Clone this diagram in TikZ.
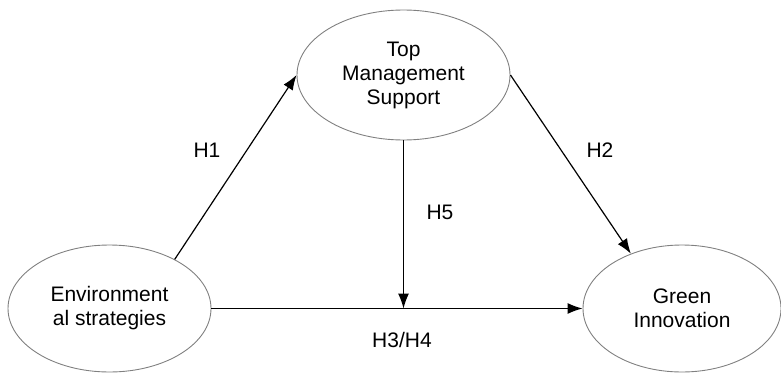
\documentclass[tikz,border=0pt]{standalone}
\usepackage{fontspec}
\setmainfont{Liberation Sans}
\usetikzlibrary{shapes.geometric,arrows.meta}
\tikzset{
  var/.style={ellipse,draw=black!50,line width=0.9pt,inner sep=0pt,align=center,
    font=\fontsize{21}{24}\selectfont},
  lbl/.style={font=\fontsize{21}{24}\selectfont},
}
\begin{document}
\begin{tikzpicture}[x=1pt,y=1pt,>={Latex[length=15pt,width=11pt]},line width=1.2pt]
\useasboundingbox (0,0) rectangle (781,373);
\node[var,minimum width=203,minimum height=127] (env) at (109.5,64.5) {Environment\\al strategies};
\node[var,minimum width=213,minimum height=130] (top) at (403.5,298) {Top\\Management\\Support};
\node[var,minimum width=198,minimum height=127] (green) at (682,64.5) {Green\\Innovation};
\coordinate (mid) at (top.south |- env.east);

\draw[->] (env.37) -- (top.west);
\draw[->] (top.east) -- (green.133);
\draw[->] (top.south) -- (mid);
\draw[->] (env.east) -- (green.west);

\node[lbl] (h1) at (207,223) {H1};
\node[lbl] (h2) at (600,223) {H2};
\node[lbl] (h5) at (440,161) {H5};
\node[lbl] (h34) at (402,33) {H3/H4};
\end{tikzpicture}
\end{document}
